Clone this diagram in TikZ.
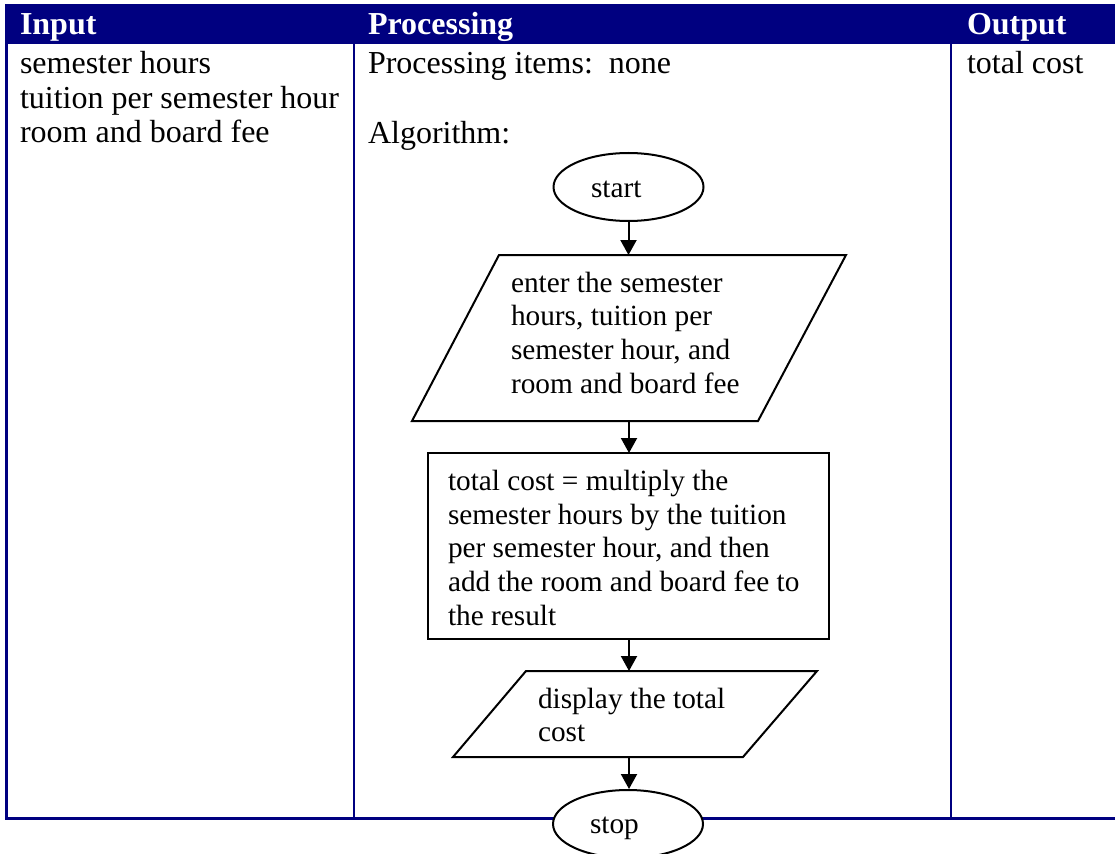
\documentclass[tikz,border=0pt]{standalone}
\usepackage{fontspec}
\setmainfont{Liberation Serif}
\usetikzlibrary{arrows.meta,shapes.geometric}
\definecolor{navy}{HTML}{000080}
\begin{document}
\begin{tikzpicture}[x=1pt,y=-1pt,
  txt/.style={anchor=base west,inner sep=0pt,outer sep=0pt,font=\fontsize{32}{34}\selectfont},
  ftxt/.style={anchor=base west,inner sep=0pt,outer sep=0pt,font=\fontsize{29.3}{33.7}\selectfont},
  hdr/.style={anchor=base west,inner sep=0pt,outer sep=0pt,text=white,font=\fontsize{32}{34}\selectfont\bfseries},
  grid/.style={draw=navy,line width=2.5pt},
  shp/.style={draw=black,line width=2pt},
  oval/.style={shp,ellipse,minimum width=150pt,minimum height=68pt,inner sep=0pt,fill=white},
  box/.style={inner sep=0pt,outer sep=0pt},
  flow/.style={line width=2pt,-{Triangle[width=16pt,length=15pt]}}]
\useasboundingbox (0,0) rectangle (1115,853);
\clip (0,0) rectangle (1115,853);
% table
\fill[navy] (5,4) rectangle (1116,44);
\draw[grid] (6.3,44) -- (6.3,818.3) -- (1116,818.3);
\draw[grid] (354,44) -- (354,818.3);
\draw[grid] (951,44) -- (951,818.3);
% headers
\node[hdr] (hin) at (20,35) {Input};
\node[hdr] (hproc) at (368,35) {Processing};
\node[hdr] (hout) at (967,35) {Output};
% column texts
\foreach \t [count=\i from 0] in {semester hours, tuition per semester hour, room and board fee}
  \node[txt] (incol\i) at (20,74+34.5*\i) {\t};
\node[txt] (pitems) at (368,74) {Processing items:\ \ none};
\node[txt] (algo) at (368,144) {Algorithm:};
\node[txt] (outcol) at (967,74) {total cost};
% flowchart shapes
\node[oval] (start) at (628.5,187) {};
\node[ftxt] (starttxt) at (591,197) {start};
\node[box,minimum width=434pt,minimum height=166pt] (inp) at (629,338) {};
\draw[shp] (inp.south west) -- ([xshift=87pt]inp.north west) -- (inp.north east) -- ([xshift=-88pt]inp.south east) -- cycle;
\foreach \t [count=\i from 0] in {enter the semester, {hours, tuition per}, {semester hour, and}, room and board fee}
  \node[ftxt] (inptxt\i) at (511,292+33.7*\i) {\t};
\node[shp,box,minimum width=401pt,minimum height=186pt] (calc) at (628.5,546) {};
\foreach \t [count=\i from 0] in {total cost = multiply the, semester hours by the tuition, {per semester hour, and then}, add the room and board fee to, the result}
  \node[ftxt] (calctxt\i) at (448,490.7+33.6*\i) {\t};
\node[box,minimum width=364pt,minimum height=86pt] (outp) at (635,714) {};
\draw[shp] (outp.south west) -- ([xshift=73pt]outp.north west) -- (outp.north east) -- ([xshift=-74pt]outp.south east) -- cycle;
\node[ftxt] (outtxt0) at (538,708.3) {display the total};
\node[ftxt] (outtxt1) at (538,741.7) {cost};
\node[oval] (stop) at (628,824) {};
\node[ftxt] (stoptxt) at (590,833.3) {stop};
% connectors
\draw[flow] (start.south) -- (start.south |- inp.north);
\draw[flow] (inp.south) -- (inp.south |- calc.north);
\draw[flow] (inp.south |- calc.south) -- (inp.south |- outp.north);
\draw[flow] (inp.south |- outp.south) -- (inp.south |- stop.north);
\end{tikzpicture}
\end{document}
